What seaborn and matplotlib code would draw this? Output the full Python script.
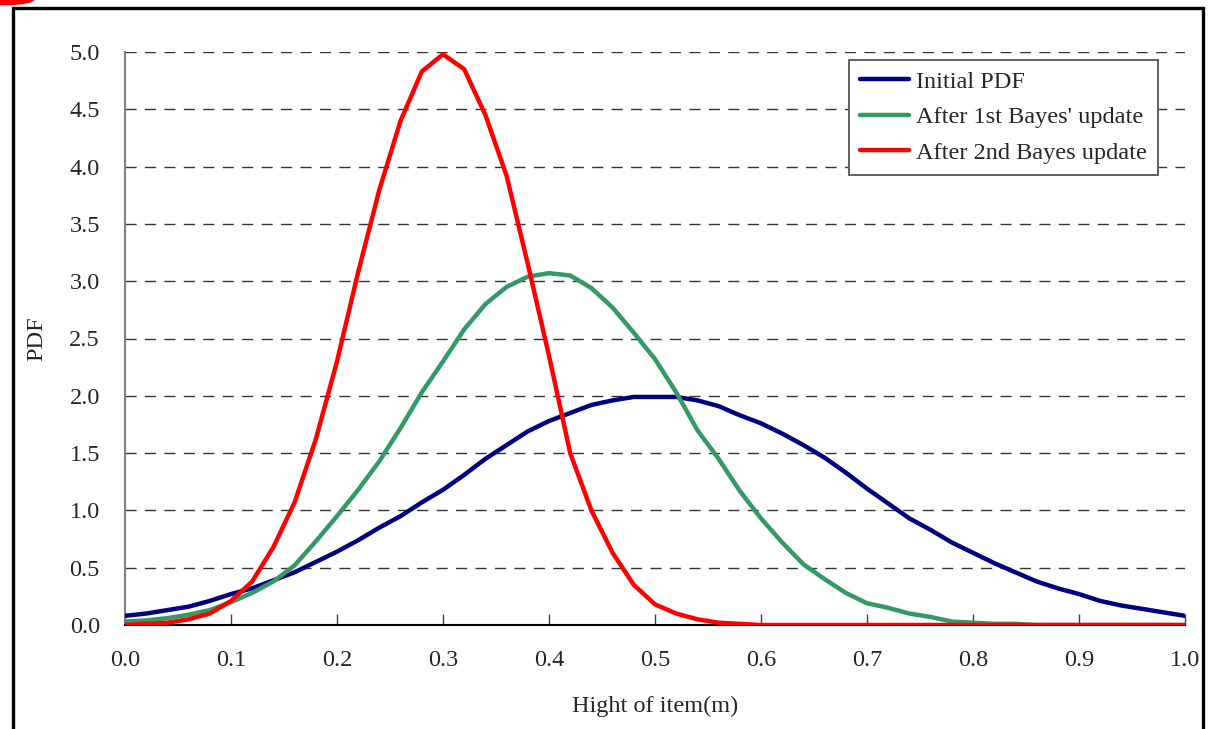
import numpy as np
import pandas as pd
import seaborn as sns
import matplotlib.pyplot as plt
from matplotlib.patches import Rectangle, Ellipse

# Height grid (m) and PDF values
height = [0.00, 0.02, 0.04, 0.06, 0.08, 0.10, 0.12, 0.14, 0.16, 0.18,
          0.20, 0.22, 0.24, 0.26, 0.28, 0.30, 0.32, 0.34, 0.36, 0.38,
          0.40, 0.42, 0.44, 0.46, 0.48, 0.50, 0.52, 0.54, 0.56, 0.58,
          0.60, 0.62, 0.64, 0.66, 0.68, 0.70, 0.72, 0.74, 0.76, 0.78,
          0.80, 0.82, 0.84, 0.86, 0.88, 0.90, 0.92, 0.94, 0.96, 0.98, 1.00]

initial_pdf = [0.08, 0.10, 0.13, 0.16, 0.21, 0.27, 0.32, 0.39, 0.46, 0.55,
               0.64, 0.74, 0.85, 0.95, 1.07, 1.18, 1.31, 1.45, 1.57, 1.69,
               1.78, 1.85, 1.92, 1.96, 1.99, 1.99, 1.99, 1.96, 1.91, 1.83,
               1.76, 1.67, 1.57, 1.46, 1.33, 1.19, 1.06, 0.93, 0.83, 0.72,
               0.63, 0.54, 0.46, 0.38, 0.32, 0.27, 0.21, 0.17, 0.14, 0.11, 0.08]

first_update = [0.03, 0.04, 0.06, 0.09, 0.13, 0.20, 0.28, 0.38, 0.52, 0.73,
                0.95, 1.18, 1.43, 1.72, 2.03, 2.30, 2.58, 2.80, 2.95, 3.04,
                3.07, 3.05, 2.94, 2.77, 2.55, 2.32, 2.03, 1.70, 1.45, 1.17,
                0.93, 0.72, 0.53, 0.40, 0.28, 0.19, 0.15, 0.10, 0.07, 0.03,
                0.02, 0.01, 0.01, 0.00, 0.00, 0.00, 0.00, 0.00, 0.00, 0.00, 0.00]

second_update = [0.00, 0.01, 0.02, 0.05, 0.10, 0.21, 0.38, 0.68, 1.07, 1.62,
                 2.30, 3.08, 3.80, 4.40, 4.83, 4.98, 4.85, 4.45, 3.92, 3.15,
                 2.35, 1.50, 1.00, 0.63, 0.35, 0.18, 0.10, 0.05, 0.02, 0.01,
                 0.00, 0.00, 0.00, 0.00, 0.00, 0.00, 0.00, 0.00, 0.00, 0.00,
                 0.00, 0.00, 0.00, 0.00, 0.00, 0.00, 0.00, 0.00, 0.00, 0.00, 0.00]

series_names = ["Initial PDF", "After 1st Bayes' update", "After 2nd Bayes update"]
series_colors = ["#000080", "#339966", "#FF0000"]

df = pd.concat([
    pd.DataFrame({"x": height, "pdf": vals, "series": name})
    for name, vals in zip(series_names, [initial_pdf, first_update, second_update])
])

sns.set_style("white")
plt.rcParams['font.family'] = ['Liberation Serif', 'DejaVu Serif']

fig = plt.figure(figsize=(12.15, 7.29), dpi=100)
ax = fig.add_axes([125 / 1215, 1 - 625 / 729, 1060 / 1215, 573 / 729])

sns.lineplot(data=df, x="x", y="pdf", hue="series", hue_order=series_names,
             palette=dict(zip(series_names, series_colors)), linewidth=3.2,
             ax=ax, sort=False, zorder=3)

ax.set_xlim(0, 1.0)
ax.set_ylim(0, 5.0)
ax.set_xticks(np.arange(0, 1.01, 0.1))
ax.set_yticks(np.arange(0, 5.01, 0.5))
ax.xaxis.set_major_formatter(plt.FormatStrFormatter('%.1f'))
ax.yaxis.set_major_formatter(plt.FormatStrFormatter('%.1f'))
ax.tick_params(axis='x', direction='in', length=8, width=1, color='#404040',
               labelsize=17.5, pad=18, bottom=True)
ax.tick_params(axis='y', length=0, labelsize=17.5, pad=18)
ax.yaxis.grid(True, linestyle=(0, (8, 6)), color='#333333', linewidth=1)
ax.xaxis.grid(False)

ax.set_xlabel("Hight of item(m)", fontsize=17.5, labelpad=18)
ax.set_ylabel("PDF", fontsize=17.5, labelpad=16)

for side in ['top', 'right']:
    ax.spines[side].set_visible(False)
ax.spines['left'].set_color('#808080')
ax.spines['left'].set_linewidth(1.5)
ax.spines['bottom'].set_color('#000000')
ax.spines['bottom'].set_linewidth(1.5)

leg = ax.legend(loc='upper right', bbox_to_anchor=(0.9745, 0.986), borderaxespad=0,
                fontsize=17.5, handlelength=2.0, handletextpad=0.3, labelspacing=0.55,
                borderpad=0.45, fancybox=False, framealpha=1)
leg.get_frame().set_edgecolor('#555555')
leg.get_frame().set_linewidth(1.3)
for line in leg.get_lines():
    line.set_linewidth(3.2)

# outer chart frame and the stray red mark at the top-left corner
fig.patches.append(Rectangle((13 / 1215, -0.05), (1203 - 13) / 1215, 1.05 - 8 / 729,
                             transform=fig.transFigure, fill=False,
                             edgecolor='black', linewidth=2.4))
fig.patches.append(Ellipse((6 / 1215, 1 + 1 / 729), 56 / 1215, 11 / 729,
                           transform=fig.transFigure, color='red'))

fig.savefig("out.png", dpi=100)
